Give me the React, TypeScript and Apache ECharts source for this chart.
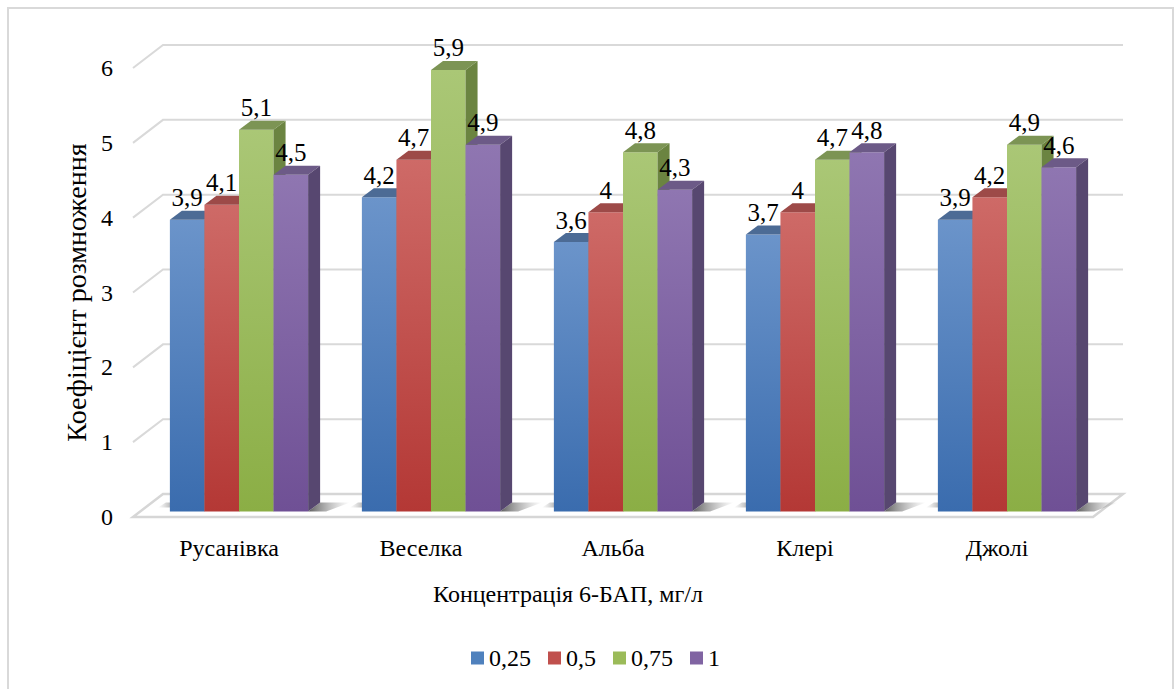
import React, { useEffect, useRef } from "react";
import * as echarts from "echarts";

const categories = ["Русанівка", "Веселка", "Альба", "Клері", "Джолі"];
const seriesNames = ["0,25", "0,5", "0,75", "1"];
const s025 = [3.9, 4.2, 3.6, 3.7, 3.9];
const s05 = [4.1, 4.7, 4.0, 4.0, 4.2];
const s075 = [5.1, 5.9, 4.8, 4.7, 4.9];
const s1 = [4.5, 4.9, 4.3, 4.8, 4.6];
const yTicks = [0, 1, 2, 3, 4, 5, 6];
const yAxisTitle = "Коефіцієнт розмноження";
const xAxisTitle = "Концентрація 6-БАП, мг/л";

const allSeries = [s025, s05, s075, s1];

const FONT = "Liberation Serif";

const palette = [
  { base: "#4F81BD", light: "#6b94ca", dark: "#3a6cae", top: "#4c6b95", side: "#3a557e" },
  { base: "#C0504D", light: "#ce6a67", dark: "#b43835", top: "#9d4a48", side: "#7a302e" },
  { base: "#9BBB59", light: "#aac776", dark: "#8bae45", top: "#7c9454", side: "#6b8441" },
  { base: "#8064A2", light: "#8f76b1", dark: "#6f5095", top: "#6c5a87", side: "#574770" },
];

// geometry (visual styling only)
const BAR_FRAC = 0.18;
const GROUP_DX = 10;
const GROUP_DY = -5.5;
const DEPTH_X = 12;
const DEPTH_Y = 9;
const WALL_DX = 30;
const WALL_DY = 23;

const fmt = (v: number) => String(v).replace(".", ",");

export default function App() {
  const ref = useRef<HTMLDivElement>(null);

  useEffect(() => {
    document.body.style.margin = "0";
    const chart = echarts.init(ref.current!, null, { renderer: "svg" });

    const barSeries = allSeries.map((vals, i) => ({
      type: "custom",
      name: seriesNames[i],
      z: 2,
      clip: false,
      itemStyle: { color: palette[i].base },
      encode: { x: 0, y: 1 },
      data: vals.map((v, c) => [c, v]),
      renderItem: (params: any, api: any) => {
        const c = api.value(0);
        const v = api.value(1);
        const top = api.coord([c, v]);
        const base = api.coord([c, 0]);
        const band = api.size([1, 0])[0];
        const bw = band * BAR_FRAC;
        const x = top[0] + (i - 2) * bw + GROUP_DX;
        const yT = top[1] + GROUP_DY;
        const yB = base[1] + GROUP_DY;
        const p = palette[i];
        return {
          type: "group",
          children: [
            {
              type: "rect",
              z2: i * 3,
              shape: { x, y: yT, width: bw, height: yB - yT },
              style: {
                fill: new echarts.graphic.LinearGradient(0, 0, 0, 1, [
                  { offset: 0, color: p.light },
                  { offset: 1, color: p.dark },
                ]),
              },
            },
            {
              type: "polygon",
              z2: i * 3 + 1,
              shape: {
                points: [
                  [x, yT],
                  [x + DEPTH_X, yT - DEPTH_Y],
                  [x + bw + DEPTH_X, yT - DEPTH_Y],
                  [x + bw, yT],
                ],
              },
              style: { fill: p.top },
            },
            {
              type: "polygon",
              z2: i * 3 + 1,
              shape: {
                points: [
                  [x + bw, yT],
                  [x + bw + DEPTH_X, yT - DEPTH_Y],
                  [x + bw + DEPTH_X, yB - DEPTH_Y],
                  [x + bw, yB],
                ],
              },
              style: { fill: p.side },
            },
          ],
        };
      },
    }));

    const labelData: number[][] = [];
    allSeries.forEach((vals, i) => vals.forEach((v, c) => labelData.push([c, v, i])));

    const labelSeries = {
      type: "custom",
      name: "labels",
      z: 5,
      clip: false,
      silent: true,
      encode: { x: 0, y: 1 },
      data: labelData,
      renderItem: (params: any, api: any) => {
        const c = api.value(0);
        const v = api.value(1);
        const i = api.value(2);
        const top = api.coord([c, v]);
        const band = api.size([1, 0])[0];
        const bw = band * BAR_FRAC;
        const x = top[0] + (i - 2) * bw + GROUP_DX + bw / 2;
        const y = top[1] + GROUP_DY - 22;
        return {
          type: "text",
          style: {
            text: fmt(v),
            x,
            y,
            align: "center",
            verticalAlign: "middle",
            fontSize: 25,
            fontFamily: FONT,
            fill: "#000",
          },
        };
      },
    };

    const wallSeries = {
      type: "custom",
      name: "walls",
      z: 1,
      clip: false,
      silent: true,
      encode: { x: 0, y: 1 },
      data: yTicks.map((v) => [0, v]),
      renderItem: (params: any, api: any) => {
        const cs = params.coordSys;
        const x0 = cs.x;
        const x1 = cs.x + cs.width;
        const v = api.value(1);
        const y = api.coord([0, v])[1];
        if (v === 0) {
          const band = api.size([1, 0])[0];
          const bw = band * BAR_FRAC;
          const shadows: any[] = categories.map((_, c) => {
            const cx = api.coord([c, 0])[0];
            const xr = cx + 2 * bw + GROUP_DX;
            const yb = y + GROUP_DY;
            return {
              type: "polygon",
              shape: {
                points: [
                  [xr, yb],
                  [xr + DEPTH_X, yb - DEPTH_Y],
                  [xr + DEPTH_X + 30, yb - DEPTH_Y],
                  [xr + 18, yb],
                ],
              },
              style: {
                fill: new echarts.graphic.LinearGradient(0, 0, 1, 0, [
                  { offset: 0, color: "rgba(40,40,40,0.75)" },
                  { offset: 1, color: "rgba(120,120,120,0)" },
                ]),
              },
            };
          });
          const leftShadows: any[] = categories.map((_, c) => {
            const cx = api.coord([c, 0])[0];
            const xl = cx - 2 * bw + GROUP_DX;
            const yb = y + GROUP_DY;
            return {
              type: "polygon",
              shape: {
                points: [
                  [xl - 12, yb - 4],
                  [xl, yb - 4],
                  [xl + 6, yb - DEPTH_Y],
                  [xl - 4, yb - DEPTH_Y],
                ],
              },
              style: {
                fill: new echarts.graphic.LinearGradient(1, 0, 0, 0, [
                  { offset: 0, color: "rgba(60,60,60,0.55)" },
                  { offset: 1, color: "rgba(120,120,120,0)" },
                ]),
              },
            };
          });
          return {
            type: "group",
            children: [
              {
                type: "polygon",
                shape: {
                  points: [
                    [x0, y],
                    [x1, y],
                    [x1 + WALL_DX, y - WALL_DY],
                    [x0 + WALL_DX, y - WALL_DY],
                  ],
                },
                style: { fill: "#ffffff", stroke: "#d6d6d6", lineWidth: 2.5 },
              },
              ...shadows,
              ...leftShadows,
            ],
          };
        }
        return {
          type: "polyline",
          shape: {
            points: [
              [x0, y],
              [x0 + WALL_DX, y - WALL_DY],
              [x1 + WALL_DX, y - WALL_DY],
            ],
          },
          style: { fill: "none", stroke: "#d9d9d9", lineWidth: 2 },
        };
      },
    };

    chart.setOption({
      animation: false,
      grid: { left: 133, right: 82, top: 68, bottom: 172, containLabel: false },
      legend: {
        data: seriesNames,
        left: 466,
        top: 641,
        icon: "rect",
        itemWidth: 13,
        itemHeight: 13,
        itemGap: 17,
        textStyle: { fontSize: 24, fontFamily: FONT, color: "#000" },
      },
      xAxis: {
        type: "category",
        data: categories,
        axisLine: { show: false },
        axisTick: { show: false },
        splitLine: { show: false },
        axisLabel: { fontSize: 24, fontFamily: FONT, color: "#000", margin: 19 },
      },
      yAxis: {
        type: "value",
        min: 0,
        max: 6,
        interval: 1,
        name: yAxisTitle,
        nameLocation: "middle",
        nameRotate: 90,
        nameGap: 37,
        nameTextStyle: { fontSize: 28, fontFamily: FONT, color: "#000" },
        axisLine: { show: false },
        axisTick: { show: false },
        splitLine: { show: false },
        axisLabel: { fontSize: 24, fontFamily: FONT, color: "#000", margin: 20 },
      },
      graphic: [
        {
          type: "rect",
          shape: { x: 8, y: 8, width: 1165, height: 700 },
          style: { fill: "none", stroke: "#d9d9d9", lineWidth: 2 },
          silent: true,
        },
        {
          type: "text",
          x: 568,
          y: 594,
          style: {
            text: xAxisTitle,
            align: "center",
            verticalAlign: "middle",
            fontSize: 24,
            fontFamily: FONT,
            fill: "#000",
          },
        },
      ],
      series: [wallSeries, ...barSeries, labelSeries],
    });

    return () => chart.dispose();
  }, []);

  return <div ref={ref} style={{ width: 1175, height: 689 }} />;
}
